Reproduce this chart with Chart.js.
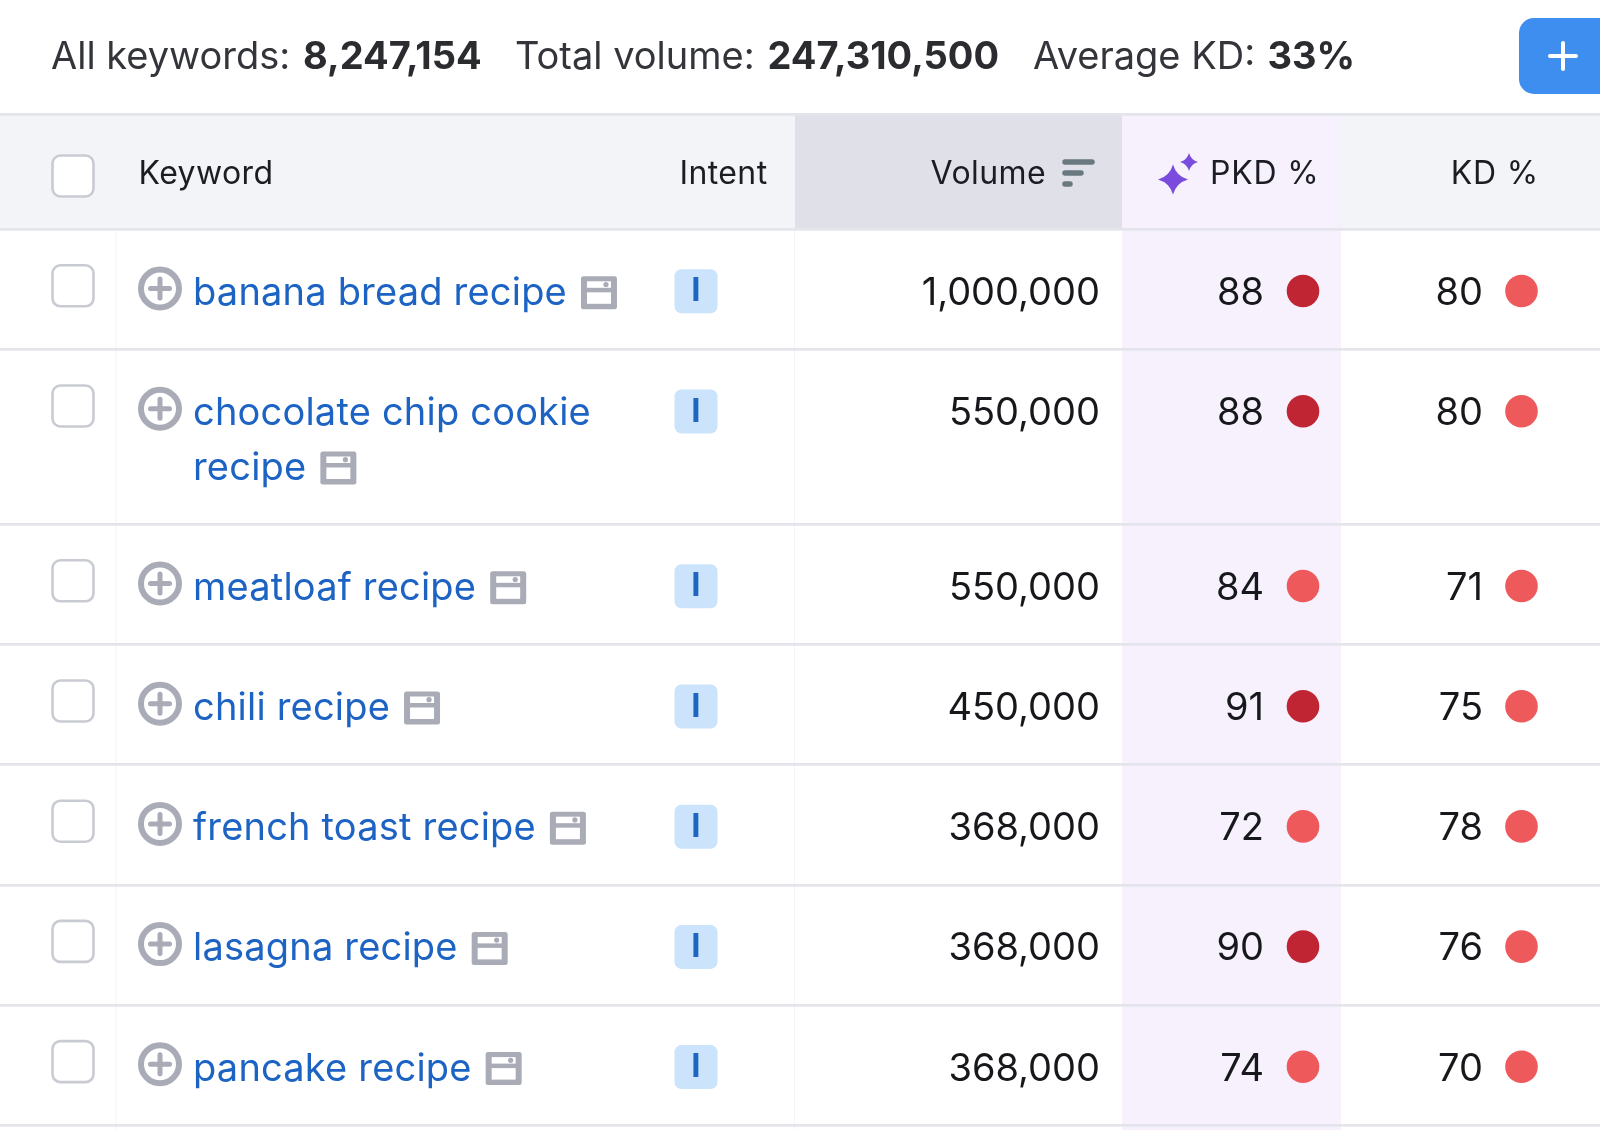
<!DOCTYPE html>
<html>
<head>
<meta charset="utf-8">
<title>Keywords</title>
<style>
  html, body { margin: 0; padding: 0; background: #fff; overflow: hidden; }
  canvas { display: block; }
</style>
<script src="https://cdn.jsdelivr.net/npm/chart.js@4"></script>
</head>
<body>
<canvas id="table" width="1600" height="1130"></canvas>
<script>
// values
const keywords = ["banana bread recipe", "chocolate chip cookie recipe", "meatloaf recipe", "chili recipe", "french toast recipe", "lasagna recipe", "pancake recipe"];
const volumes = ["1,000,000", "550,000", "550,000", "450,000", "368,000", "368,000", "368,000"];
const pkdValues = [88, 88, 84, 91, 72, 90, 74];
const kdValues = [80, 80, 71, 75, 78, 76, 70];
const intents = ["I", "I", "I", "I", "I", "I", "I"];
const columnLabels = ["Keyword", "Intent", "Volume", "PKD %", "KD %"];
const summaryLabels = ["All keywords:", "Total volume:", "Average KD:"];
const summaryValues = ["8,247,154", "247,310,500", "33%"];

// layout
const W = 1600, H = 1130;
const HEAD_TOP = 114, HEAD_BOTTOM = 229.3, ROW_H = 120.2, WRAP_H = 54.6, LINE_H = 55;
const KEYWORD_X = 193, KEYWORD_MAX = 440, KEYWORD_SPACING = 0.2;
const VOLUME_COL = [794.5, 1122], PKD_COL = [1122, 1341];
const PKD_DOT_X = 1303, KD_DOT_X = 1521.5;
const DIVIDERS = [116, 794.5];
const HEAD_DIVIDERS = [1341, 1560];
const SUMMARY_BASE = 69;
const FONT = "Inter, 'Noto Sans', sans-serif";
const BODY_FONT = "38px " + FONT, HEAD_FONT = "32px " + FONT, TOP_FONT = "38px " + FONT, TOP_BOLD = "700 38px " + FONT;

const measureCtx = document.createElement("canvas").getContext("2d");

function wrapKeyword(text) {
    measureCtx.font = BODY_FONT;
    const lines = [];
    let line = "";
    text.split(" ").forEach((word) => {
        const next = line ? line + " " + word : word;
        if (measureCtx.measureText(next).width > KEYWORD_MAX && line) {
            lines.push(line);
            line = word;
        } else {
            line = next;
        }
    });
    lines.push(line);
    return lines;
}

const keywordLines = keywords.map(wrapKeyword);

// row tops in axis units, one extra entry for the closing line
const rowEdges = [HEAD_BOTTOM];
keywordLines.forEach((lines, i) => rowEdges.push(rowEdges[i] + ROW_H + (lines.length - 1) * WRAP_H));
const dotY = rowEdges.slice(0, -1).map((top) => top + 61.7);

function pkdColor(v) {
    return v >= 85 ? "#c02533" : "#ee5a5c";
}

function text(ctx, str, x, y, font, color, align, spacing) {
    ctx.font = font;
    ctx.fillStyle = color;
    ctx.textAlign = align || "left";
    ctx.textBaseline = "alphabetic";
    ctx.letterSpacing = (spacing || 0) + "px";
    ctx.fillText(str, x, y);
    ctx.letterSpacing = "0px";
}

function roundBox(ctx, x, y, w, h, r, fill, stroke, lineWidth) {
    ctx.beginPath();
    ctx.roundRect(x, y, w, h, r);
    if (fill) { ctx.fillStyle = fill; ctx.fill(); }
    if (stroke) { ctx.strokeStyle = stroke; ctx.lineWidth = lineWidth; ctx.stroke(); }
}

function checkbox(ctx, y) {
    roundBox(ctx, 52.5, y, 41, 41, 8, "#fff", "#c9cbd3", 2.6);
}

function plusIcon(ctx, cx, cy) {
    ctx.beginPath();
    ctx.arc(cx, cy, 19, 0, Math.PI * 2);
    ctx.strokeStyle = "#a9abb6";
    ctx.lineWidth = 6;
    ctx.stroke();
    ctx.lineCap = "round";
    ctx.lineWidth = 5;
    ctx.beginPath();
    ctx.moveTo(cx - 9.5, cy); ctx.lineTo(cx + 9.5, cy);
    ctx.moveTo(cx, cy - 9.5); ctx.lineTo(cx, cy + 9.5);
    ctx.stroke();
    ctx.lineCap = "butt";
}

function ovenIcon(ctx, x, y) {
    roundBox(ctx, x, y, 36, 33, 2.5, "#a9abb6");
    ctx.fillStyle = "#fff";
    ctx.fillRect(x + 6, y + 5, 24, 6.5);
    ctx.fillRect(x + 6, y + 16, 24, 11.5);
    ctx.fillStyle = "#a9abb6";
    ctx.beginPath();
    ctx.arc(x + 25, y + 8.2, 2.6, 0, Math.PI * 2);
    ctx.fill();
}

function star(ctx, cx, cy, r) {
    const k = r * 0.22;
    ctx.beginPath();
    ctx.moveTo(cx, cy - r);
    ctx.quadraticCurveTo(cx + k, cy - k, cx + r, cy);
    ctx.quadraticCurveTo(cx + k, cy + k, cx, cy + r);
    ctx.quadraticCurveTo(cx - k, cy + k, cx - r, cy);
    ctx.quadraticCurveTo(cx - k, cy - k, cx, cy - r);
    ctx.fill();
}

// column bands go under the grid lines
const bandsPlugin = {
    id: "bands",
    beforeDraw(chart) {
        const { ctx } = chart;
        const x = chart.scales.x, y = chart.scales.y;
        const band = (from, to, top, bottom, color) => {
            ctx.fillStyle = color;
            ctx.fillRect(x.getPixelForValue(from), y.getPixelForValue(top), x.getPixelForValue(to) - x.getPixelForValue(from), y.getPixelForValue(bottom) - y.getPixelForValue(top));
        };
        const divider = (d, bottom) => {
            ctx.beginPath();
            ctx.moveTo(x.getPixelForValue(d), y.getPixelForValue(HEAD_TOP));
            ctx.lineTo(x.getPixelForValue(d), y.getPixelForValue(bottom));
            ctx.stroke();
        };
        band(0, W, 0, H, "#ffffff");
        band(0, W, HEAD_TOP, HEAD_BOTTOM, "#f3f4f8");
        band(VOLUME_COL[0], VOLUME_COL[1], HEAD_TOP, HEAD_BOTTOM, "#dfe0e8");
        band(PKD_COL[0], PKD_COL[1], HEAD_TOP, H, "#f6f1fd");
        ctx.strokeStyle = "#f4f5f8";
        ctx.lineWidth = 1;
        DIVIDERS.forEach((d) => divider(d, H));
        ctx.strokeStyle = "#f1f2f6";
        HEAD_DIVIDERS.forEach((d) => divider(d, HEAD_BOTTOM));
    }
};

const tablePlugin = {
    id: "tableText",
    afterDatasetsDraw(chart) {
        const { ctx } = chart;
        const y = chart.scales.y;

        // summary strip
        const dark = "#33353a";
        text(ctx, summaryLabels[0], 51, SUMMARY_BASE, TOP_FONT, dark);
        text(ctx, summaryValues[0], 303, SUMMARY_BASE, TOP_BOLD, "#2b2c30");
        text(ctx, summaryLabels[1], 515, SUMMARY_BASE, TOP_FONT, dark);
        text(ctx, summaryValues[1], 767.5, SUMMARY_BASE, TOP_BOLD, "#2b2c30");
        text(ctx, summaryLabels[2], 1033, SUMMARY_BASE, TOP_FONT, dark);
        text(ctx, summaryValues[2], 1267.5, SUMMARY_BASE, TOP_BOLD, "#2b2c30");

        // add button, runs off the right edge
        roundBox(ctx, 1519, 18, 120, 76, 15, "#3e8ef0");
        ctx.strokeStyle = "#fff";
        ctx.lineWidth = 4;
        ctx.lineCap = "round";
        ctx.beginPath();
        ctx.moveTo(1550, 56); ctx.lineTo(1576, 56);
        ctx.moveTo(1563, 43); ctx.lineTo(1563, 69);
        ctx.stroke();
        ctx.lineCap = "butt";

        // header row
        const headBase = y.getPixelForValue(184);
        const ink = "#1b1d22";
        checkbox(ctx, y.getPixelForValue(155.5));
        text(ctx, columnLabels[0], 138.5, headBase, HEAD_FONT, ink, "left", 0.4);
        text(ctx, columnLabels[1], 767.5, headBase, HEAD_FONT, ink, "right", 0.4);
        text(ctx, columnLabels[2], 1046, headBase, HEAD_FONT, ink, "right", 0.4);
        text(ctx, columnLabels[3], 1319.5, headBase, HEAD_FONT, ink, "right", 0.8);
        text(ctx, columnLabels[4], 1539, headBase, HEAD_FONT, ink, "right", 0.8);

        ctx.lineCap = "round";
        ctx.strokeStyle = "#6a7880";
        ctx.lineWidth = 5.5;
        [[162, 32], [173, 21], [184, 10]].forEach(([ly, w]) => {
            ctx.beginPath();
            ctx.moveTo(1065, ly);
            ctx.lineTo(1060 + w, ly);
            ctx.stroke();
        });
        ctx.lineCap = "butt";

        ctx.fillStyle = "#7a4bdc";
        star(ctx, 1173, 179.5, 15);
        star(ctx, 1189, 162, 9);

        // body rows
        keywords.forEach((kw, i) => {
            const top = rowEdges[i];
            const base = y.getPixelForValue(top + 75.5);
            checkbox(ctx, y.getPixelForValue(top + 36));
            plusIcon(ctx, 160, y.getPixelForValue(top + 59.2));

            keywordLines[i].forEach((line, n) => {
                const ly = base + n * LINE_H;
                text(ctx, line, KEYWORD_X, ly, BODY_FONT, "#1c63c4", "left", KEYWORD_SPACING);
                if (n === keywordLines[i].length - 1) {
                    ctx.font = BODY_FONT;
                    ctx.letterSpacing = KEYWORD_SPACING + "px";
                    ovenIcon(ctx, KEYWORD_X + ctx.measureText(line).width + 14, ly - 28.5);
                    ctx.letterSpacing = "0px";
                }
            });

            roundBox(ctx, 674.5, y.getPixelForValue(top + 40), 43, 44, 7, "#cce4fb");
            text(ctx, intents[i], 696, y.getPixelForValue(top + 72), "700 33px " + FONT, "#1f66c1", "center");

            text(ctx, volumes[i], 1100, base, BODY_FONT, "#17181c", "right");
            text(ctx, String(pkdValues[i]), 1264, base, BODY_FONT, "#17181c", "right");
            text(ctx, String(kdValues[i]), 1483, base, BODY_FONT, "#17181c", "right");
        });
    }
};

new Chart(document.getElementById("table").getContext("2d"), {
    type: "scatter",
    data: {
        datasets: [{
            label: "PKD %",
            data: pkdValues.map((v, i) => ({ x: PKD_DOT_X, y: dotY[i], value: v })),
            backgroundColor: pkdValues.map(pkdColor),
            borderWidth: 0,
            pointRadius: 16.3
        }, {
            label: "KD %",
            data: kdValues.map((v, i) => ({ x: KD_DOT_X, y: dotY[i], value: v })),
            backgroundColor: kdValues.map(pkdColor),
            borderWidth: 0,
            pointRadius: 16.3
        }]
    },
    options: {
        responsive: false,
        animation: false,
        events: [],
        layout: { padding: 0, autoPadding: false },
        plugins: { legend: { display: false }, tooltip: { enabled: false } },
        scales: {
            x: { type: "linear", min: 0, max: W, display: false },
            y: {
                type: "linear",
                min: 0,
                max: H,
                reverse: true,
                afterFit(scale) { scale.width = 0; },
                afterBuildTicks(scale) {
                    scale.ticks = [HEAD_TOP].concat(rowEdges).map((v) => ({ value: v }));
                },
                ticks: { display: false },
                border: { display: false },
                grid: { color: "#e4e5ec", lineWidth: 2.8, drawTicks: false }
            }
        }
    },
    plugins: [bandsPlugin, tablePlugin]
});
</script>
</body>
</html>
